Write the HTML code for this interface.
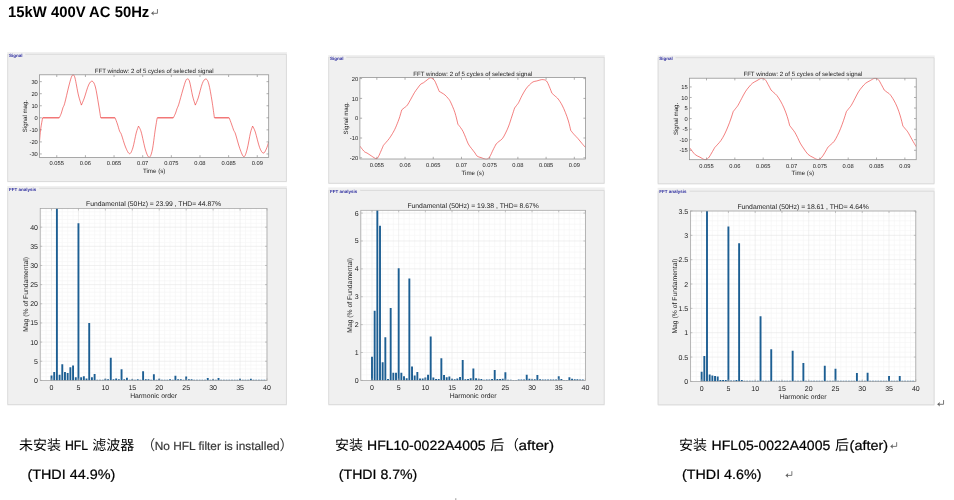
<!DOCTYPE html>
<html><head><meta charset="utf-8"><title>15kW 400V AC 50Hz</title>
<style>
html,body{margin:0;padding:0;background:#fff;width:954px;height:500px;overflow:hidden}
body{font-family:"Liberation Sans",sans-serif;position:relative}
text{white-space:pre}
</style></head><body>
<svg width="954" height="500" viewBox="0 0 954 500" style="position:absolute;left:0;top:0" font-family="Liberation Sans, sans-serif" text-rendering="geometricPrecision">
<rect width="954" height="500" fill="#fff"/>
<defs><filter id="soft" x="0" y="0" width="954" height="500" filterUnits="userSpaceOnUse"><feGaussianBlur stdDeviation="0.35"/></filter></defs>
<g filter="url(#soft)">
<rect x="7.20" y="52.00" width="279.80" height="130.30" fill="#f0f0f0"/>
<path d="M25.20 54.30 H286.40 V181.50 H7.70 V54.30 H8.80" fill="none" stroke="#d2d2d2" stroke-width="0.7"/>
<text x="8.90" y="56.90" font-size="4.50" text-anchor="start" fill="#3030a0" font-weight="bold" >Signal</text>
<rect x="7.20" y="186.00" width="279.80" height="219.40" fill="#f0f0f0"/>
<path d="M39.20 188.30 H286.40 V404.60 H7.70 V188.30 H8.80" fill="none" stroke="#d2d2d2" stroke-width="0.7"/>
<text x="8.90" y="190.90" font-size="4.50" text-anchor="start" fill="#3030a0" font-weight="bold" >FFT analysis</text>
<rect x="39.60" y="74.80" width="229.10" height="82.60" fill="#fff"/>
<text x="56.78" y="165.40" font-size="5.75" text-anchor="middle" fill="#1c1c1c" font-weight="normal" >0.055</text>
<text x="85.42" y="165.40" font-size="5.75" text-anchor="middle" fill="#1c1c1c" font-weight="normal" >0.06</text>
<text x="114.06" y="165.40" font-size="5.75" text-anchor="middle" fill="#1c1c1c" font-weight="normal" >0.065</text>
<text x="142.70" y="165.40" font-size="5.75" text-anchor="middle" fill="#1c1c1c" font-weight="normal" >0.07</text>
<text x="171.33" y="165.40" font-size="5.75" text-anchor="middle" fill="#1c1c1c" font-weight="normal" >0.075</text>
<text x="199.97" y="165.40" font-size="5.75" text-anchor="middle" fill="#1c1c1c" font-weight="normal" >0.08</text>
<text x="228.61" y="165.40" font-size="5.75" text-anchor="middle" fill="#1c1c1c" font-weight="normal" >0.085</text>
<text x="257.25" y="165.40" font-size="5.75" text-anchor="middle" fill="#1c1c1c" font-weight="normal" >0.09</text>
<text x="37.80" y="83.85" font-size="5.75" text-anchor="end" fill="#1c1c1c" font-weight="normal" >30</text>
<text x="37.80" y="95.90" font-size="5.75" text-anchor="end" fill="#1c1c1c" font-weight="normal" >20</text>
<text x="37.80" y="107.95" font-size="5.75" text-anchor="end" fill="#1c1c1c" font-weight="normal" >10</text>
<text x="37.80" y="120.00" font-size="5.75" text-anchor="end" fill="#1c1c1c" font-weight="normal" >0</text>
<text x="37.80" y="132.05" font-size="5.75" text-anchor="end" fill="#1c1c1c" font-weight="normal" >-10</text>
<text x="37.80" y="144.10" font-size="5.75" text-anchor="end" fill="#1c1c1c" font-weight="normal" >-20</text>
<text x="37.80" y="156.15" font-size="5.75" text-anchor="end" fill="#1c1c1c" font-weight="normal" >-30</text>
<path d="M56.78 157.40v-2.20 M56.78 74.80v2.20 M85.42 157.40v-2.20 M85.42 74.80v2.20 M114.06 157.40v-2.20 M114.06 74.80v2.20 M142.70 157.40v-2.20 M142.70 74.80v2.20 M171.33 157.40v-2.20 M171.33 74.80v2.20 M199.97 157.40v-2.20 M199.97 74.80v2.20 M228.61 157.40v-2.20 M228.61 74.80v2.20 M257.25 157.40v-2.20 M257.25 74.80v2.20 M39.60 81.65h2.20 M268.70 81.65h-2.20 M39.60 93.70h2.20 M268.70 93.70h-2.20 M39.60 105.75h2.20 M268.70 105.75h-2.20 M39.60 117.80h2.20 M268.70 117.80h-2.20 M39.60 129.85h2.20 M268.70 129.85h-2.20 M39.60 141.90h2.20 M268.70 141.90h-2.20 M39.60 153.95h2.20 M268.70 153.95h-2.20 " stroke="#8e8e8e" stroke-width="0.7" fill="none"/>
<clipPath id="cp39"><rect x="39.60" y="74.30" width="229.10" height="83.60"/></clipPath>
<path d="M39.50 141.50 C39.70 139.42 40.18 132.95 40.70 129.00 C41.22 125.05 42.28 119.67 42.60 117.80 L59.30 117.80 C59.65 117.00 60.80 114.67 61.40 113.00 C62.00 111.33 62.35 109.42 62.90 107.80 C63.45 106.18 63.75 106.77 64.70 103.30 C65.65 99.83 67.50 91.32 68.60 87.00 C69.70 82.68 70.55 79.42 71.30 77.40 C72.05 75.38 72.48 74.80 73.10 74.90 C73.72 75.00 74.12 74.65 75.00 78.00 C75.88 81.35 77.33 90.48 78.40 95.00 C79.47 99.52 80.90 103.42 81.40 105.10 C81.88 103.92 83.10 101.35 84.30 98.00 C85.50 94.65 87.28 87.80 88.60 85.00 C89.92 82.20 91.07 80.87 92.20 81.20 C93.33 81.53 94.35 83.20 95.40 87.00 C96.45 90.80 97.62 98.87 98.50 104.00 C99.38 109.13 100.33 115.50 100.70 117.80 L115.10 117.80 C115.48 118.83 116.65 121.77 117.40 124.00 C118.15 126.23 118.93 129.45 119.60 131.20 C120.27 132.95 120.42 131.87 121.40 134.50 C122.38 137.13 124.15 143.80 125.50 147.00 C126.85 150.20 128.28 153.53 129.50 153.70 C130.72 153.87 131.68 151.45 132.80 148.00 C133.92 144.55 135.25 136.65 136.20 133.00 C137.15 129.35 138.12 127.25 138.50 126.10 C138.95 127.08 140.03 128.02 141.20 132.00 C142.37 135.98 144.17 145.78 145.50 150.00 C146.83 154.22 148.07 157.30 149.20 157.30 C150.33 157.30 151.30 154.55 152.30 150.00 C153.30 145.45 154.38 135.37 155.20 130.00 C156.02 124.63 156.87 119.83 157.20 117.80 L173.40 117.80 C173.77 117.00 175.00 114.52 175.60 113.00 C176.20 111.48 176.47 110.17 177.00 108.70 C177.53 107.23 177.83 107.32 178.80 104.20 C179.77 101.08 181.63 93.93 182.80 90.00 C183.97 86.07 184.97 82.43 185.80 80.60 C186.63 78.77 187.15 78.77 187.80 79.00 C188.45 79.23 188.90 79.17 189.70 82.00 C190.50 84.83 191.67 92.15 192.60 96.00 C193.53 99.85 194.85 103.58 195.30 105.10 C195.78 103.92 197.03 101.60 198.20 98.00 C199.37 94.40 201.03 86.67 202.30 83.50 C203.57 80.33 204.72 78.92 205.80 79.00 C206.88 79.08 207.77 80.33 208.80 84.00 C209.83 87.67 211.07 95.37 212.00 101.00 C212.93 106.63 214.00 115.00 214.40 117.80 L229.20 117.80 C229.58 118.83 230.75 121.92 231.50 124.00 C232.25 126.08 233.03 128.63 233.70 130.30 C234.37 131.97 234.48 130.97 235.50 134.00 C236.52 137.03 238.40 144.72 239.80 148.50 C241.20 152.28 242.67 156.62 243.90 156.70 C245.13 156.78 246.12 152.95 247.20 149.00 C248.28 145.05 249.50 136.82 250.40 133.00 C251.30 129.18 252.23 127.25 252.60 126.10 C253.05 127.08 254.13 128.43 255.30 132.00 C256.47 135.57 258.27 143.98 259.60 147.50 C260.93 151.02 262.18 152.85 263.30 153.10 C264.42 153.35 265.40 150.85 266.30 149.00 C267.20 147.15 268.30 143.17 268.70 142.00" stroke="#ec3030" stroke-width="0.62" fill="none" stroke-linejoin="round" clip-path="url(#cp39)"/>
<rect x="39.60" y="74.80" width="229.10" height="82.60" fill="none" stroke="#8e8e8e" stroke-width="0.75"/>
<text x="154.15" y="73.00" font-size="6.08" text-anchor="middle" fill="#1c1c1c" font-weight="normal" >FFT window: 2 of 5 cycles of selected signal</text>
<text x="154.15" y="173.00" font-size="6.20" text-anchor="middle" fill="#1c1c1c" font-weight="normal" >Time (s)</text>
<text x="27.00" y="116.10" font-size="6.10" text-anchor="middle" fill="#1c1c1c" font-weight="normal" transform="rotate(-90 27.00 116.10)" >Signal mag.</text>
<path d="M43 117.8H59 M101 117.8H114.8 M157.6 117.8H173 M214.8 117.8H228.8" stroke="#ea2a2a" stroke-width="0.55" fill="none"/>
<rect x="40.20" y="208.50" width="226.80" height="171.90" fill="#fff"/>
<path d="M40.74 208.50V380.40 M46.13 208.50V380.40 M56.90 208.50V380.40 M62.29 208.50V380.40 M67.67 208.50V380.40 M73.06 208.50V380.40 M83.84 208.50V380.40 M89.22 208.50V380.40 M94.61 208.50V380.40 M100.00 208.50V380.40 M110.77 208.50V380.40 M116.16 208.50V380.40 M121.55 208.50V380.40 M126.93 208.50V380.40 M137.71 208.50V380.40 M143.10 208.50V380.40 M148.48 208.50V380.40 M153.87 208.50V380.40 M164.64 208.50V380.40 M170.03 208.50V380.40 M175.42 208.50V380.40 M180.81 208.50V380.40 M191.58 208.50V380.40 M196.97 208.50V380.40 M202.35 208.50V380.40 M207.74 208.50V380.40 M218.52 208.50V380.40 M223.90 208.50V380.40 M229.29 208.50V380.40 M234.68 208.50V380.40 M245.45 208.50V380.40 M250.84 208.50V380.40 M256.23 208.50V380.40 M261.61 208.50V380.40 M40.20 376.57H267.00 M40.20 372.74H267.00 M40.20 368.91H267.00 M40.20 365.08H267.00 M40.20 357.41H267.00 M40.20 353.58H267.00 M40.20 349.75H267.00 M40.20 345.92H267.00 M40.20 338.26H267.00 M40.20 334.43H267.00 M40.20 330.60H267.00 M40.20 326.77H267.00 M40.20 319.10H267.00 M40.20 315.27H267.00 M40.20 311.44H267.00 M40.20 307.61H267.00 M40.20 299.95H267.00 M40.20 296.12H267.00 M40.20 292.29H267.00 M40.20 288.45H267.00 M40.20 280.79H267.00 M40.20 276.96H267.00 M40.20 273.13H267.00 M40.20 269.30H267.00 M40.20 261.64H267.00 M40.20 257.81H267.00 M40.20 253.97H267.00 M40.20 250.14H267.00 M40.20 242.48H267.00 M40.20 238.65H267.00 M40.20 234.82H267.00 M40.20 230.99H267.00 M40.20 223.33H267.00 M40.20 219.50H267.00 M40.20 215.66H267.00 M40.20 211.83H267.00 " stroke="#f5f5f5" stroke-width="0.6" fill="none"/>
<path d="M51.51 208.50V380.40 M78.45 208.50V380.40 M105.38 208.50V380.40 M132.32 208.50V380.40 M159.26 208.50V380.40 M186.19 208.50V380.40 M213.13 208.50V380.40 M240.06 208.50V380.40 M267.00 208.50V380.40 M40.20 361.24H267.00 M40.20 342.09H267.00 M40.20 322.93H267.00 M40.20 303.78H267.00 M40.20 284.62H267.00 M40.20 265.47H267.00 M40.20 246.31H267.00 M40.20 227.16H267.00 " stroke="#e6e6e6" stroke-width="0.6" fill="none"/>
<path d="M50.56 380.40h1.90v-4.98h-1.90z M53.26 380.40h1.90v-8.43h-1.90z M55.95 380.40h1.90v-171.90h-1.90z M58.64 380.40h1.90v-5.75h-1.90z M61.34 380.40h1.90v-16.09h-1.90z M64.03 380.40h1.90v-8.43h-1.90z M66.72 380.40h1.90v-7.28h-1.90z M69.42 380.40h1.90v-13.03h-1.90z M72.11 380.40h1.90v-14.94h-1.90z M74.81 380.40h1.90v-3.06h-1.90z M77.50 380.40h1.90v-157.07h-1.90z M80.19 380.40h1.90v-3.06h-1.90z M82.89 380.40h1.90v-4.21h-1.90z M85.58 380.40h1.90v-1.92h-1.90z M88.27 380.40h1.90v-57.47h-1.90z M90.97 380.40h1.90v-3.06h-1.90z M93.66 380.40h1.90v-6.51h-1.90z M96.35 380.40h1.90v-0.69h-1.90z M99.05 380.40h1.90v-0.69h-1.90z M101.74 380.40h1.90v-0.69h-1.90z M104.43 380.40h1.90v-1.53h-1.90z M107.13 380.40h1.90v-1.15h-1.90z M109.82 380.40h1.90v-22.60h-1.90z M112.52 380.40h1.90v-1.15h-1.90z M115.21 380.40h1.90v-1.92h-1.90z M117.90 380.40h1.90v-1.15h-1.90z M120.60 380.40h1.90v-11.11h-1.90z M123.29 380.40h1.90v-1.15h-1.90z M125.98 380.40h1.90v-2.68h-1.90z M128.68 380.40h1.90v-0.69h-1.90z M131.37 380.40h1.90v-1.15h-1.90z M134.06 380.40h1.90v-0.69h-1.90z M136.76 380.40h1.90v-1.15h-1.90z M139.45 380.40h1.90v-0.69h-1.90z M142.15 380.40h1.90v-9.19h-1.90z M144.84 380.40h1.90v-1.15h-1.90z M147.53 380.40h1.90v-1.15h-1.90z M150.23 380.40h1.90v-0.69h-1.90z M152.92 380.40h1.90v-6.13h-1.90z M155.61 380.40h1.90v-0.69h-1.90z M158.31 380.40h1.90v-1.53h-1.90z M161.00 380.40h1.90v-0.69h-1.90z M163.69 380.40h1.90v-0.69h-1.90z M166.39 380.40h1.90v-0.69h-1.90z M169.08 380.40h1.90v-1.15h-1.90z M171.77 380.40h1.90v-0.69h-1.90z M174.47 380.40h1.90v-4.60h-1.90z M177.16 380.40h1.90v-1.15h-1.90z M179.86 380.40h1.90v-1.15h-1.90z M182.55 380.40h1.90v-0.69h-1.90z M185.24 380.40h1.90v-3.83h-1.90z M187.94 380.40h1.90v-1.15h-1.90z M190.63 380.40h1.90v-1.15h-1.90z M193.32 380.40h1.90v-0.69h-1.90z M196.02 380.40h1.90v-0.69h-1.90z M198.71 380.40h1.90v-0.69h-1.90z M201.40 380.40h1.90v-0.69h-1.90z M204.10 380.40h1.90v-0.69h-1.90z M206.79 380.40h1.90v-2.30h-1.90z M209.48 380.40h1.90v-0.69h-1.90z M212.18 380.40h1.90v-1.15h-1.90z M214.87 380.40h1.90v-0.69h-1.90z M217.57 380.40h1.90v-2.30h-1.90z M220.26 380.40h1.90v-0.69h-1.90z M222.95 380.40h1.90v-0.69h-1.90z M225.65 380.40h1.90v-0.69h-1.90z M228.34 380.40h1.90v-0.69h-1.90z M231.03 380.40h1.90v-0.69h-1.90z M233.73 380.40h1.90v-0.69h-1.90z M236.42 380.40h1.90v-0.69h-1.90z M239.11 380.40h1.90v-1.53h-1.90z M241.81 380.40h1.90v-0.69h-1.90z M244.50 380.40h1.90v-0.69h-1.90z M247.19 380.40h1.90v-0.69h-1.90z M249.89 380.40h1.90v-1.53h-1.90z M252.58 380.40h1.90v-0.69h-1.90z M255.28 380.40h1.90v-0.69h-1.90z M257.97 380.40h1.90v-0.69h-1.90z M260.66 380.40h1.90v-0.69h-1.90z M263.36 380.40h1.90v-0.69h-1.90z " fill="#1f5f93"/>
<text x="51.51" y="389.60" font-size="7.00" text-anchor="middle" fill="#1c1c1c" font-weight="normal" >0</text>
<text x="78.45" y="389.60" font-size="7.00" text-anchor="middle" fill="#1c1c1c" font-weight="normal" >5</text>
<text x="105.38" y="389.60" font-size="7.00" text-anchor="middle" fill="#1c1c1c" font-weight="normal" >10</text>
<text x="132.32" y="389.60" font-size="7.00" text-anchor="middle" fill="#1c1c1c" font-weight="normal" >15</text>
<text x="159.26" y="389.60" font-size="7.00" text-anchor="middle" fill="#1c1c1c" font-weight="normal" >20</text>
<text x="186.19" y="389.60" font-size="7.00" text-anchor="middle" fill="#1c1c1c" font-weight="normal" >25</text>
<text x="213.13" y="389.60" font-size="7.00" text-anchor="middle" fill="#1c1c1c" font-weight="normal" >30</text>
<text x="240.06" y="389.60" font-size="7.00" text-anchor="middle" fill="#1c1c1c" font-weight="normal" >35</text>
<text x="267.00" y="389.60" font-size="7.00" text-anchor="middle" fill="#1c1c1c" font-weight="normal" >40</text>
<text x="38.00" y="382.90" font-size="7.00" text-anchor="end" fill="#1c1c1c" font-weight="normal" >0</text>
<text x="38.00" y="363.74" font-size="7.00" text-anchor="end" fill="#1c1c1c" font-weight="normal" >5</text>
<text x="38.00" y="344.59" font-size="7.00" text-anchor="end" fill="#1c1c1c" font-weight="normal" >10</text>
<text x="38.00" y="325.43" font-size="7.00" text-anchor="end" fill="#1c1c1c" font-weight="normal" >15</text>
<text x="38.00" y="306.28" font-size="7.00" text-anchor="end" fill="#1c1c1c" font-weight="normal" >20</text>
<text x="38.00" y="287.12" font-size="7.00" text-anchor="end" fill="#1c1c1c" font-weight="normal" >25</text>
<text x="38.00" y="267.97" font-size="7.00" text-anchor="end" fill="#1c1c1c" font-weight="normal" >30</text>
<text x="38.00" y="248.81" font-size="7.00" text-anchor="end" fill="#1c1c1c" font-weight="normal" >35</text>
<text x="38.00" y="229.66" font-size="7.00" text-anchor="end" fill="#1c1c1c" font-weight="normal" >40</text>
<path d="M51.51 380.40v-2.00 M51.51 208.50v2.00 M78.45 380.40v-2.00 M78.45 208.50v2.00 M105.38 380.40v-2.00 M105.38 208.50v2.00 M132.32 380.40v-2.00 M132.32 208.50v2.00 M159.26 380.40v-2.00 M159.26 208.50v2.00 M186.19 380.40v-2.00 M186.19 208.50v2.00 M213.13 380.40v-2.00 M213.13 208.50v2.00 M240.06 380.40v-2.00 M240.06 208.50v2.00 M267.00 380.40v-2.00 M267.00 208.50v2.00 M40.20 380.40h2.00 M267.00 380.40h-2.00 M40.20 361.24h2.00 M267.00 361.24h-2.00 M40.20 342.09h2.00 M267.00 342.09h-2.00 M40.20 322.93h2.00 M267.00 322.93h-2.00 M40.20 303.78h2.00 M267.00 303.78h-2.00 M40.20 284.62h2.00 M267.00 284.62h-2.00 M40.20 265.47h2.00 M267.00 265.47h-2.00 M40.20 246.31h2.00 M267.00 246.31h-2.00 M40.20 227.16h2.00 M267.00 227.16h-2.00 " stroke="#a2a2a2" stroke-width="0.6" fill="none"/>
<rect x="40.20" y="208.50" width="226.80" height="171.90" fill="none" stroke="#a2a2a2" stroke-width="0.75"/>
<text x="153.60" y="206.20" font-size="6.80" text-anchor="middle" fill="#1c1c1c" font-weight="normal" >Fundamental (50Hz) = 23.99 , THD= 44.87%</text>
<text x="153.60" y="398.20" font-size="6.80" text-anchor="middle" fill="#1c1c1c" font-weight="normal" >Harmonic order</text>
<text x="27.60" y="294.45" font-size="6.80" text-anchor="middle" fill="#1c1c1c" font-weight="normal" transform="rotate(-90 27.60 294.45)" >Mag (% of Fundamental)</text>
<rect x="328.20" y="55.00" width="276.60" height="129.10" fill="#f0f0f0"/>
<path d="M346.20 57.30 H604.20 V183.30 H328.70 V57.30 H329.80" fill="none" stroke="#d2d2d2" stroke-width="0.7"/>
<text x="329.90" y="59.90" font-size="4.50" text-anchor="start" fill="#3030a0" font-weight="bold" >Signal</text>
<rect x="328.20" y="187.40" width="276.60" height="218.00" fill="#f0f0f0"/>
<path d="M360.20 190.40 H604.20 V404.60 H328.70 V190.40 H329.80" fill="none" stroke="#d2d2d2" stroke-width="0.7"/>
<text x="329.90" y="192.51" font-size="4.50" text-anchor="start" fill="#3030a0" font-weight="bold" >FFT analysis</text>
<rect x="359.90" y="77.60" width="225.70" height="81.40" fill="#fff"/>
<text x="376.83" y="167.00" font-size="5.75" text-anchor="middle" fill="#1c1c1c" font-weight="normal" >0.055</text>
<text x="405.04" y="167.00" font-size="5.75" text-anchor="middle" fill="#1c1c1c" font-weight="normal" >0.06</text>
<text x="433.25" y="167.00" font-size="5.75" text-anchor="middle" fill="#1c1c1c" font-weight="normal" >0.065</text>
<text x="461.47" y="167.00" font-size="5.75" text-anchor="middle" fill="#1c1c1c" font-weight="normal" >0.07</text>
<text x="489.68" y="167.00" font-size="5.75" text-anchor="middle" fill="#1c1c1c" font-weight="normal" >0.075</text>
<text x="517.89" y="167.00" font-size="5.75" text-anchor="middle" fill="#1c1c1c" font-weight="normal" >0.08</text>
<text x="546.10" y="167.00" font-size="5.75" text-anchor="middle" fill="#1c1c1c" font-weight="normal" >0.085</text>
<text x="574.32" y="167.00" font-size="5.75" text-anchor="middle" fill="#1c1c1c" font-weight="normal" >0.09</text>
<text x="358.10" y="80.80" font-size="5.75" text-anchor="end" fill="#1c1c1c" font-weight="normal" >20</text>
<text x="358.10" y="100.60" font-size="5.75" text-anchor="end" fill="#1c1c1c" font-weight="normal" >10</text>
<text x="358.10" y="120.40" font-size="5.75" text-anchor="end" fill="#1c1c1c" font-weight="normal" >0</text>
<text x="358.10" y="140.20" font-size="5.75" text-anchor="end" fill="#1c1c1c" font-weight="normal" >-10</text>
<text x="358.10" y="160.00" font-size="5.75" text-anchor="end" fill="#1c1c1c" font-weight="normal" >-20</text>
<path d="M376.83 159.00v-2.20 M376.83 77.60v2.20 M405.04 159.00v-2.20 M405.04 77.60v2.20 M433.25 159.00v-2.20 M433.25 77.60v2.20 M461.47 159.00v-2.20 M461.47 77.60v2.20 M489.68 159.00v-2.20 M489.68 77.60v2.20 M517.89 159.00v-2.20 M517.89 77.60v2.20 M546.10 159.00v-2.20 M546.10 77.60v2.20 M574.32 159.00v-2.20 M574.32 77.60v2.20 M359.90 78.60h2.20 M585.60 78.60h-2.20 M359.90 98.40h2.20 M585.60 98.40h-2.20 M359.90 118.20h2.20 M585.60 118.20h-2.20 M359.90 138.00h2.20 M585.60 138.00h-2.20 M359.90 157.80h2.20 M585.60 157.80h-2.20 " stroke="#8e8e8e" stroke-width="0.7" fill="none"/>
<clipPath id="cp359"><rect x="359.90" y="77.10" width="225.70" height="82.40"/></clipPath>
<path d="M359.90 146.10 C360.33 146.67 361.67 148.50 362.50 149.50 C363.33 150.50 364.15 151.52 364.90 152.10 C365.65 152.68 365.90 152.35 367.00 153.00 C368.10 153.65 369.97 155.05 371.50 156.00 C373.03 156.95 375.05 158.60 376.20 158.70 C377.35 158.80 377.60 157.88 378.40 156.60 C379.20 155.32 380.17 152.87 381.00 151.00 C381.83 149.13 383.00 146.33 383.40 145.40 C383.83 144.90 385.03 143.53 386.00 142.40 C386.97 141.27 388.12 140.08 389.20 138.60 C390.28 137.12 391.45 135.30 392.50 133.50 C393.55 131.70 394.42 130.22 395.50 127.80 C396.58 125.38 397.95 122.00 399.00 119.00 C400.05 116.00 401.33 111.33 401.80 109.80 C402.25 109.43 403.60 108.35 404.50 107.60 C405.40 106.85 406.15 106.70 407.20 105.30 C408.25 103.90 409.60 101.30 410.80 99.20 C412.00 97.10 413.27 94.53 414.40 92.70 C415.53 90.87 416.55 89.62 417.60 88.20 C418.65 86.78 419.73 85.10 420.70 84.20 C421.67 83.30 422.35 83.50 423.40 82.80 C424.45 82.10 425.80 80.83 427.00 80.00 C428.20 79.17 429.40 77.78 430.60 77.80 C431.80 77.82 433.17 78.82 434.20 80.10 C435.23 81.38 435.97 83.62 436.80 85.50 C437.63 87.38 438.80 90.42 439.20 91.40 C439.67 91.67 441.03 92.40 442.00 93.00 C442.97 93.60 444.03 94.17 445.00 95.00 C445.97 95.83 446.90 96.88 447.80 98.00 C448.70 99.12 449.22 99.28 450.40 101.70 C451.58 104.12 453.65 108.75 454.90 112.50 C456.15 116.25 457.40 122.25 457.90 124.20 C458.33 124.75 459.65 126.30 460.50 127.50 C461.35 128.70 462.15 129.75 463.00 131.40 C463.85 133.05 464.72 135.30 465.60 137.40 C466.48 139.50 467.30 142.13 468.30 144.00 C469.30 145.87 470.48 147.10 471.60 148.60 C472.72 150.10 474.07 151.73 475.00 153.00 C475.93 154.27 476.20 155.43 477.20 156.20 C478.20 156.97 479.43 157.08 481.00 157.60 C482.57 158.12 485.13 159.47 486.60 159.30 C488.07 159.13 488.73 158.15 489.80 156.60 C490.87 155.05 491.95 152.10 493.00 150.00 C494.05 147.90 495.58 145.00 496.10 144.00 C496.58 143.57 497.95 142.30 499.00 141.40 C500.05 140.50 501.30 140.00 502.40 138.60 C503.50 137.20 504.55 135.10 505.60 133.00 C506.65 130.90 507.63 128.83 508.70 126.00 C509.77 123.17 511.02 119.00 512.00 116.00 C512.98 113.00 514.17 109.33 514.60 108.00 C514.92 107.58 515.83 106.40 516.50 105.50 C517.17 104.60 517.68 104.25 518.60 102.60 C519.52 100.95 520.80 97.85 522.00 95.60 C523.20 93.35 524.58 90.87 525.80 89.10 C527.02 87.33 528.10 86.20 529.30 85.00 C530.50 83.80 531.78 82.57 533.00 81.90 C534.22 81.23 535.43 81.32 536.60 81.00 C537.77 80.68 538.95 80.23 540.00 80.00 C541.05 79.77 541.82 79.43 542.90 79.60 C543.98 79.77 545.42 79.80 546.50 81.00 C547.58 82.20 548.50 84.77 549.40 86.80 C550.30 88.83 551.48 92.13 551.90 93.20 C552.42 93.67 553.95 95.03 555.00 96.00 C556.05 96.97 557.03 97.50 558.20 99.00 C559.37 100.50 560.80 102.75 562.00 105.00 C563.20 107.25 564.33 109.83 565.40 112.50 C566.47 115.17 567.50 118.00 568.40 121.00 C569.30 124.00 570.40 128.92 570.80 130.50 C571.37 131.18 573.00 133.25 574.20 134.60 C575.40 135.95 576.70 137.12 578.00 138.60 C579.30 140.08 580.73 142.00 582.00 143.50 C583.27 145.00 585.00 146.92 585.60 147.60" stroke="#ec3030" stroke-width="0.62" fill="none" stroke-linejoin="round" clip-path="url(#cp359)"/>
<rect x="359.90" y="77.60" width="225.70" height="81.40" fill="none" stroke="#8e8e8e" stroke-width="0.75"/>
<text x="472.75" y="75.80" font-size="6.08" text-anchor="middle" fill="#1c1c1c" font-weight="normal" >FFT window: 2 of 5 cycles of selected signal</text>
<text x="472.75" y="174.60" font-size="6.20" text-anchor="middle" fill="#1c1c1c" font-weight="normal" >Time (s)</text>
<text x="348.30" y="118.30" font-size="6.10" text-anchor="middle" fill="#1c1c1c" font-weight="normal" transform="rotate(-90 348.30 118.30)" >Signal mag.</text>
<rect x="360.80" y="210.30" width="224.60" height="170.10" fill="#fff"/>
<path d="M361.33 210.30V380.40 M366.67 210.30V380.40 M377.34 210.30V380.40 M382.67 210.30V380.40 M388.01 210.30V380.40 M393.34 210.30V380.40 M404.01 210.30V380.40 M409.35 210.30V380.40 M414.68 210.30V380.40 M420.02 210.30V380.40 M430.69 210.30V380.40 M436.02 210.30V380.40 M441.36 210.30V380.40 M446.69 210.30V380.40 M457.36 210.30V380.40 M462.70 210.30V380.40 M468.03 210.30V380.40 M473.37 210.30V380.40 M484.04 210.30V380.40 M489.37 210.30V380.40 M494.71 210.30V380.40 M500.04 210.30V380.40 M510.71 210.30V380.40 M516.05 210.30V380.40 M521.38 210.30V380.40 M526.72 210.30V380.40 M537.39 210.30V380.40 M542.72 210.30V380.40 M548.06 210.30V380.40 M553.39 210.30V380.40 M564.06 210.30V380.40 M569.40 210.30V380.40 M574.73 210.30V380.40 M580.07 210.30V380.40 M360.80 374.82H585.40 M360.80 369.25H585.40 M360.80 363.67H585.40 M360.80 358.09H585.40 M360.80 346.94H585.40 M360.80 341.36H585.40 M360.80 335.78H585.40 M360.80 330.21H585.40 M360.80 319.05H585.40 M360.80 313.48H585.40 M360.80 307.90H585.40 M360.80 302.32H585.40 M360.80 291.17H585.40 M360.80 285.59H585.40 M360.80 280.01H585.40 M360.80 274.44H585.40 M360.80 263.28H585.40 M360.80 257.70H585.40 M360.80 252.13H585.40 M360.80 246.55H585.40 M360.80 235.40H585.40 M360.80 229.82H585.40 M360.80 224.24H585.40 M360.80 218.67H585.40 " stroke="#f5f5f5" stroke-width="0.6" fill="none"/>
<path d="M372.00 210.30V380.40 M398.68 210.30V380.40 M425.35 210.30V380.40 M452.03 210.30V380.40 M478.70 210.30V380.40 M505.38 210.30V380.40 M532.05 210.30V380.40 M558.73 210.30V380.40 M585.40 210.30V380.40 M360.80 352.51H585.40 M360.80 324.63H585.40 M360.80 296.74H585.40 M360.80 268.86H585.40 M360.80 240.97H585.40 M360.80 213.09H585.40 " stroke="#e6e6e6" stroke-width="0.6" fill="none"/>
<path d="M371.05 380.40h1.90v-23.70h-1.90z M373.72 380.40h1.90v-69.71h-1.90z M376.39 380.40h1.90v-170.10h-1.90z M379.06 380.40h1.90v-154.76h-1.90z M381.72 380.40h1.90v-18.13h-1.90z M384.39 380.40h1.90v-43.22h-1.90z M387.06 380.40h1.90v-1.39h-1.90z M389.73 380.40h1.90v-72.50h-1.90z M392.39 380.40h1.90v-7.53h-1.90z M395.06 380.40h1.90v-7.53h-1.90z M397.73 380.40h1.90v-112.10h-1.90z M400.40 380.40h1.90v-7.53h-1.90z M403.06 380.40h1.90v-4.18h-1.90z M405.73 380.40h1.90v-2.23h-1.90z M408.40 380.40h1.90v-101.78h-1.90z M411.07 380.40h1.90v-13.94h-1.90z M413.73 380.40h1.90v-5.02h-1.90z M416.40 380.40h1.90v-8.37h-1.90z M419.07 380.40h1.90v-1.95h-1.90z M421.74 380.40h1.90v-1.95h-1.90z M424.40 380.40h1.90v-2.79h-1.90z M427.07 380.40h1.90v-5.58h-1.90z M429.74 380.40h1.90v-43.78h-1.90z M432.40 380.40h1.90v-2.79h-1.90z M435.07 380.40h1.90v-1.39h-1.90z M437.74 380.40h1.90v-1.39h-1.90z M440.41 380.40h1.90v-22.03h-1.90z M443.07 380.40h1.90v-5.30h-1.90z M445.74 380.40h1.90v-3.07h-1.90z M448.41 380.40h1.90v-3.90h-1.90z M451.08 380.40h1.90v-1.67h-1.90z M453.74 380.40h1.90v-1.12h-1.90z M456.41 380.40h1.90v-1.95h-1.90z M459.08 380.40h1.90v-3.35h-1.90z M461.75 380.40h1.90v-20.36h-1.90z M464.41 380.40h1.90v-1.12h-1.90z M467.08 380.40h1.90v-1.39h-1.90z M469.75 380.40h1.90v-2.23h-1.90z M472.42 380.40h1.90v-11.99h-1.90z M475.08 380.40h1.90v-2.23h-1.90z M477.75 380.40h1.90v-1.67h-1.90z M480.42 380.40h1.90v-1.39h-1.90z M483.09 380.40h1.90v-0.56h-1.90z M485.75 380.40h1.90v-0.84h-1.90z M488.42 380.40h1.90v-0.84h-1.90z M491.09 380.40h1.90v-1.39h-1.90z M493.76 380.40h1.90v-10.32h-1.90z M496.42 380.40h1.90v-1.39h-1.90z M499.09 380.40h1.90v-1.39h-1.90z M501.76 380.40h1.90v-1.67h-1.90z M504.43 380.40h1.90v-8.09h-1.90z M507.09 380.40h1.90v-0.56h-1.90z M509.76 380.40h1.90v-0.56h-1.90z M512.43 380.40h1.90v-0.28h-1.90z M515.10 380.40h1.90v-0.28h-1.90z M517.76 380.40h1.90v-0.84h-1.90z M520.43 380.40h1.90v-0.84h-1.90z M523.10 380.40h1.90v-0.84h-1.90z M525.77 380.40h1.90v-5.58h-1.90z M528.43 380.40h1.90v-1.67h-1.90z M531.10 380.40h1.90v-1.12h-1.90z M533.77 380.40h1.90v-1.12h-1.90z M536.44 380.40h1.90v-5.30h-1.90z M539.10 380.40h1.90v-1.12h-1.90z M541.77 380.40h1.90v-0.84h-1.90z M544.44 380.40h1.90v-0.84h-1.90z M547.11 380.40h1.90v-0.84h-1.90z M549.77 380.40h1.90v-0.84h-1.90z M552.44 380.40h1.90v-0.84h-1.90z M555.11 380.40h1.90v-0.84h-1.90z M557.78 380.40h1.90v-4.18h-1.90z M560.44 380.40h1.90v-1.39h-1.90z M563.11 380.40h1.90v-0.28h-1.90z M565.78 380.40h1.90v-0.28h-1.90z M568.45 380.40h1.90v-3.07h-1.90z M571.11 380.40h1.90v-1.67h-1.90z M573.78 380.40h1.90v-1.12h-1.90z M576.45 380.40h1.90v-1.12h-1.90z M579.12 380.40h1.90v-0.84h-1.90z M581.78 380.40h1.90v-0.84h-1.90z " fill="#1f5f93"/>
<text x="372.00" y="389.60" font-size="7.00" text-anchor="middle" fill="#1c1c1c" font-weight="normal" >0</text>
<text x="398.68" y="389.60" font-size="7.00" text-anchor="middle" fill="#1c1c1c" font-weight="normal" >5</text>
<text x="425.35" y="389.60" font-size="7.00" text-anchor="middle" fill="#1c1c1c" font-weight="normal" >10</text>
<text x="452.03" y="389.60" font-size="7.00" text-anchor="middle" fill="#1c1c1c" font-weight="normal" >15</text>
<text x="478.70" y="389.60" font-size="7.00" text-anchor="middle" fill="#1c1c1c" font-weight="normal" >20</text>
<text x="505.38" y="389.60" font-size="7.00" text-anchor="middle" fill="#1c1c1c" font-weight="normal" >25</text>
<text x="532.05" y="389.60" font-size="7.00" text-anchor="middle" fill="#1c1c1c" font-weight="normal" >30</text>
<text x="558.73" y="389.60" font-size="7.00" text-anchor="middle" fill="#1c1c1c" font-weight="normal" >35</text>
<text x="585.40" y="389.60" font-size="7.00" text-anchor="middle" fill="#1c1c1c" font-weight="normal" >40</text>
<text x="358.60" y="382.90" font-size="7.00" text-anchor="end" fill="#1c1c1c" font-weight="normal" >0</text>
<text x="358.60" y="355.01" font-size="7.00" text-anchor="end" fill="#1c1c1c" font-weight="normal" >1</text>
<text x="358.60" y="327.13" font-size="7.00" text-anchor="end" fill="#1c1c1c" font-weight="normal" >2</text>
<text x="358.60" y="299.24" font-size="7.00" text-anchor="end" fill="#1c1c1c" font-weight="normal" >3</text>
<text x="358.60" y="271.36" font-size="7.00" text-anchor="end" fill="#1c1c1c" font-weight="normal" >4</text>
<text x="358.60" y="243.47" font-size="7.00" text-anchor="end" fill="#1c1c1c" font-weight="normal" >5</text>
<text x="358.60" y="215.59" font-size="7.00" text-anchor="end" fill="#1c1c1c" font-weight="normal" >6</text>
<path d="M372.00 380.40v-2.00 M372.00 210.30v2.00 M398.68 380.40v-2.00 M398.68 210.30v2.00 M425.35 380.40v-2.00 M425.35 210.30v2.00 M452.03 380.40v-2.00 M452.03 210.30v2.00 M478.70 380.40v-2.00 M478.70 210.30v2.00 M505.38 380.40v-2.00 M505.38 210.30v2.00 M532.05 380.40v-2.00 M532.05 210.30v2.00 M558.73 380.40v-2.00 M558.73 210.30v2.00 M585.40 380.40v-2.00 M585.40 210.30v2.00 M360.80 380.40h2.00 M585.40 380.40h-2.00 M360.80 352.51h2.00 M585.40 352.51h-2.00 M360.80 324.63h2.00 M585.40 324.63h-2.00 M360.80 296.74h2.00 M585.40 296.74h-2.00 M360.80 268.86h2.00 M585.40 268.86h-2.00 M360.80 240.97h2.00 M585.40 240.97h-2.00 M360.80 213.09h2.00 M585.40 213.09h-2.00 " stroke="#a2a2a2" stroke-width="0.6" fill="none"/>
<rect x="360.80" y="210.30" width="224.60" height="170.10" fill="none" stroke="#a2a2a2" stroke-width="0.75"/>
<text x="473.10" y="208.00" font-size="6.80" text-anchor="middle" fill="#1c1c1c" font-weight="normal" >Fundamental (50Hz) = 19.38 , THD= 8.67%</text>
<text x="473.10" y="398.20" font-size="6.80" text-anchor="middle" fill="#1c1c1c" font-weight="normal" >Harmonic order</text>
<text x="352.00" y="295.35" font-size="6.80" text-anchor="middle" fill="#1c1c1c" font-weight="normal" transform="rotate(-90 352.00 295.35)" >Mag (% of Fundamental)</text>
<rect x="657.60" y="55.40" width="277.10" height="129.10" fill="#f0f0f0"/>
<path d="M675.60 57.70 H934.10 V183.70 H658.10 V57.70 H659.20" fill="none" stroke="#d2d2d2" stroke-width="0.7"/>
<text x="659.30" y="60.30" font-size="4.50" text-anchor="start" fill="#3030a0" font-weight="bold" >Signal</text>
<rect x="657.60" y="187.80" width="277.10" height="217.80" fill="#f0f0f0"/>
<path d="M689.60 191.20 H934.10 V404.80 H658.10 V191.20 H659.20" fill="none" stroke="#d2d2d2" stroke-width="0.7"/>
<text x="659.30" y="193.03" font-size="4.50" text-anchor="start" fill="#3030a0" font-weight="bold" >FFT analysis</text>
<rect x="689.50" y="78.20" width="226.70" height="81.50" fill="#fff"/>
<text x="706.50" y="167.70" font-size="5.75" text-anchor="middle" fill="#1c1c1c" font-weight="normal" >0.055</text>
<text x="734.84" y="167.70" font-size="5.75" text-anchor="middle" fill="#1c1c1c" font-weight="normal" >0.06</text>
<text x="763.18" y="167.70" font-size="5.75" text-anchor="middle" fill="#1c1c1c" font-weight="normal" >0.065</text>
<text x="791.52" y="167.70" font-size="5.75" text-anchor="middle" fill="#1c1c1c" font-weight="normal" >0.07</text>
<text x="819.85" y="167.70" font-size="5.75" text-anchor="middle" fill="#1c1c1c" font-weight="normal" >0.075</text>
<text x="848.19" y="167.70" font-size="5.75" text-anchor="middle" fill="#1c1c1c" font-weight="normal" >0.08</text>
<text x="876.53" y="167.70" font-size="5.75" text-anchor="middle" fill="#1c1c1c" font-weight="normal" >0.085</text>
<text x="904.87" y="167.70" font-size="5.75" text-anchor="middle" fill="#1c1c1c" font-weight="normal" >0.09</text>
<text x="687.70" y="89.11" font-size="5.75" text-anchor="end" fill="#1c1c1c" font-weight="normal" >15</text>
<text x="687.70" y="99.67" font-size="5.75" text-anchor="end" fill="#1c1c1c" font-weight="normal" >10</text>
<text x="687.70" y="110.23" font-size="5.75" text-anchor="end" fill="#1c1c1c" font-weight="normal" >5</text>
<text x="687.70" y="120.80" font-size="5.75" text-anchor="end" fill="#1c1c1c" font-weight="normal" >0</text>
<text x="687.70" y="131.36" font-size="5.75" text-anchor="end" fill="#1c1c1c" font-weight="normal" >-5</text>
<text x="687.70" y="141.93" font-size="5.75" text-anchor="end" fill="#1c1c1c" font-weight="normal" >-10</text>
<text x="687.70" y="152.49" font-size="5.75" text-anchor="end" fill="#1c1c1c" font-weight="normal" >-15</text>
<path d="M706.50 159.70v-2.20 M706.50 78.20v2.20 M734.84 159.70v-2.20 M734.84 78.20v2.20 M763.18 159.70v-2.20 M763.18 78.20v2.20 M791.52 159.70v-2.20 M791.52 78.20v2.20 M819.85 159.70v-2.20 M819.85 78.20v2.20 M848.19 159.70v-2.20 M848.19 78.20v2.20 M876.53 159.70v-2.20 M876.53 78.20v2.20 M904.87 159.70v-2.20 M904.87 78.20v2.20 M689.50 86.91h2.20 M916.20 86.91h-2.20 M689.50 97.47h2.20 M916.20 97.47h-2.20 M689.50 108.03h2.20 M916.20 108.03h-2.20 M689.50 118.60h2.20 M916.20 118.60h-2.20 M689.50 129.16h2.20 M916.20 129.16h-2.20 M689.50 139.73h2.20 M916.20 139.73h-2.20 M689.50 150.29h2.20 M916.20 150.29h-2.20 " stroke="#8e8e8e" stroke-width="0.7" fill="none"/>
<clipPath id="cp689"><rect x="689.50" y="77.70" width="226.70" height="82.50"/></clipPath>
<path d="M689.50 147.60 C689.98 148.23 691.42 150.20 692.40 151.40 C693.38 152.60 694.13 153.83 695.40 154.80 C696.67 155.77 698.43 156.40 700.00 157.20 C701.57 158.00 703.40 159.47 704.80 159.60 C706.20 159.73 707.27 159.10 708.40 158.00 C709.53 156.90 710.55 154.73 711.60 153.00 C712.65 151.27 714.18 148.50 714.70 147.60 C715.22 147.03 716.75 145.40 717.80 144.20 C718.85 143.00 719.85 142.10 721.00 140.40 C722.15 138.70 723.50 136.40 724.70 134.00 C725.90 131.60 727.18 128.50 728.20 126.00 C729.22 123.50 729.97 121.40 730.80 119.00 C731.63 116.60 732.80 112.83 733.20 111.60 C733.60 111.08 734.80 109.55 735.60 108.50 C736.40 107.45 737.00 106.95 738.00 105.30 C739.00 103.65 740.38 100.85 741.60 98.60 C742.82 96.35 744.08 93.73 745.30 91.80 C746.52 89.87 747.70 88.43 748.90 87.00 C750.10 85.57 751.15 84.27 752.50 83.20 C753.85 82.13 755.50 81.42 757.00 80.60 C758.50 79.78 760.15 78.47 761.50 78.30 C762.85 78.13 764.00 78.57 765.10 79.60 C766.20 80.63 767.12 82.77 768.10 84.50 C769.08 86.23 770.52 89.08 771.00 90.00 C771.47 90.43 772.83 91.70 773.80 92.60 C774.77 93.50 775.68 94.00 776.80 95.40 C777.92 96.80 779.30 98.90 780.50 101.00 C781.70 103.10 782.88 105.42 784.00 108.00 C785.12 110.58 786.25 113.57 787.20 116.50 C788.15 119.43 789.28 124.08 789.70 125.60 C790.12 126.13 791.35 127.68 792.20 128.80 C793.05 129.92 793.90 130.83 794.80 132.30 C795.70 133.77 796.70 135.80 797.60 137.60 C798.50 139.40 799.13 141.20 800.20 143.10 C801.27 145.00 802.68 147.12 804.00 149.00 C805.32 150.88 806.60 153.00 808.10 154.40 C809.60 155.80 811.35 156.53 813.00 157.40 C814.65 158.27 816.57 159.58 818.00 159.60 C819.43 159.62 820.45 158.68 821.60 157.50 C822.75 156.32 823.85 154.22 824.90 152.50 C825.95 150.78 827.40 148.08 827.90 147.20 C828.42 146.73 829.95 145.38 831.00 144.40 C832.05 143.42 833.13 142.77 834.20 141.30 C835.27 139.83 836.35 137.70 837.40 135.60 C838.45 133.50 839.47 131.25 840.50 128.70 C841.53 126.15 842.62 123.15 843.60 120.30 C844.58 117.45 845.93 113.05 846.40 111.60 C846.80 111.08 847.98 109.55 848.80 108.50 C849.62 107.45 850.28 106.95 851.30 105.30 C852.32 103.65 853.70 100.85 854.90 98.60 C856.10 96.35 857.30 93.73 858.50 91.80 C859.70 89.87 860.90 88.43 862.10 87.00 C863.30 85.57 864.35 84.27 865.70 83.20 C867.05 82.13 868.70 81.42 870.20 80.60 C871.70 79.78 873.35 78.47 874.70 78.30 C876.05 78.13 877.20 78.57 878.30 79.60 C879.40 80.63 880.32 82.77 881.30 84.50 C882.28 86.23 883.72 89.08 884.20 90.00 C884.67 90.37 886.03 91.45 887.00 92.20 C887.97 92.95 888.88 93.20 890.00 94.50 C891.12 95.80 892.50 97.90 893.70 100.00 C894.90 102.10 896.10 104.43 897.20 107.10 C898.30 109.77 899.35 112.85 900.30 116.00 C901.25 119.15 902.47 124.33 902.90 126.00 C903.32 126.50 904.55 127.95 905.40 129.00 C906.25 130.05 906.90 130.55 908.00 132.30 C909.10 134.05 910.63 137.10 912.00 139.50 C913.37 141.90 915.50 145.50 916.20 146.70" stroke="#ec3030" stroke-width="0.62" fill="none" stroke-linejoin="round" clip-path="url(#cp689)"/>
<rect x="689.50" y="78.20" width="226.70" height="81.50" fill="none" stroke="#8e8e8e" stroke-width="0.75"/>
<text x="802.85" y="76.40" font-size="6.08" text-anchor="middle" fill="#1c1c1c" font-weight="normal" >FFT window: 2 of 5 cycles of selected signal</text>
<text x="802.85" y="175.30" font-size="6.20" text-anchor="middle" fill="#1c1c1c" font-weight="normal" >Time (s)</text>
<text x="677.80" y="118.95" font-size="6.10" text-anchor="middle" fill="#1c1c1c" font-weight="normal" transform="rotate(-90 677.80 118.95)" >Signal mag.</text>
<rect x="690.40" y="211.00" width="225.40" height="170.40" fill="#fff"/>
<path d="M690.94 211.00V381.40 M696.29 211.00V381.40 M707.00 211.00V381.40 M712.35 211.00V381.40 M717.70 211.00V381.40 M723.06 211.00V381.40 M733.77 211.00V381.40 M739.12 211.00V381.40 M744.47 211.00V381.40 M749.83 211.00V381.40 M760.54 211.00V381.40 M765.89 211.00V381.40 M771.24 211.00V381.40 M776.60 211.00V381.40 M787.31 211.00V381.40 M792.66 211.00V381.40 M798.01 211.00V381.40 M803.37 211.00V381.40 M814.08 211.00V381.40 M819.43 211.00V381.40 M824.78 211.00V381.40 M830.14 211.00V381.40 M840.85 211.00V381.40 M846.20 211.00V381.40 M851.55 211.00V381.40 M856.91 211.00V381.40 M867.61 211.00V381.40 M872.97 211.00V381.40 M878.32 211.00V381.40 M883.68 211.00V381.40 M894.38 211.00V381.40 M899.74 211.00V381.40 M905.09 211.00V381.40 M910.45 211.00V381.40 M690.40 376.53H915.80 M690.40 371.66H915.80 M690.40 366.79H915.80 M690.40 361.93H915.80 M690.40 352.19H915.80 M690.40 347.32H915.80 M690.40 342.45H915.80 M690.40 337.58H915.80 M690.40 327.85H915.80 M690.40 322.98H915.80 M690.40 318.11H915.80 M690.40 313.24H915.80 M690.40 303.50H915.80 M690.40 298.63H915.80 M690.40 293.77H915.80 M690.40 288.90H915.80 M690.40 279.16H915.80 M690.40 274.29H915.80 M690.40 269.42H915.80 M690.40 264.55H915.80 M690.40 254.82H915.80 M690.40 249.95H915.80 M690.40 245.08H915.80 M690.40 240.21H915.80 M690.40 230.47H915.80 M690.40 225.61H915.80 M690.40 220.74H915.80 M690.40 215.87H915.80 " stroke="#f5f5f5" stroke-width="0.6" fill="none"/>
<path d="M701.64 211.00V381.40 M728.41 211.00V381.40 M755.18 211.00V381.40 M781.95 211.00V381.40 M808.72 211.00V381.40 M835.49 211.00V381.40 M862.26 211.00V381.40 M889.03 211.00V381.40 M915.80 211.00V381.40 M690.40 357.06H915.80 M690.40 332.71H915.80 M690.40 308.37H915.80 M690.40 284.03H915.80 M690.40 259.69H915.80 M690.40 235.34H915.80 M690.40 211.00H915.80 " stroke="#e6e6e6" stroke-width="0.6" fill="none"/>
<path d="M700.69 381.40h1.90v-9.74h-1.90z M703.37 381.40h1.90v-25.32h-1.90z M706.05 381.40h1.90v-170.40h-1.90z M708.72 381.40h1.90v-6.82h-1.90z M711.40 381.40h1.90v-5.84h-1.90z M714.08 381.40h1.90v-5.36h-1.90z M716.75 381.40h1.90v-4.87h-1.90z M719.43 381.40h1.90v-1.46h-1.90z M722.11 381.40h1.90v-1.46h-1.90z M724.79 381.40h1.90v-1.46h-1.90z M727.46 381.40h1.90v-154.82h-1.90z M730.14 381.40h1.90v-0.97h-1.90z M732.82 381.40h1.90v-0.97h-1.90z M735.49 381.40h1.90v-1.46h-1.90z M738.17 381.40h1.90v-138.27h-1.90z M740.85 381.40h1.90v-1.46h-1.90z M743.52 381.40h1.90v-0.58h-1.90z M746.20 381.40h1.90v-0.58h-1.90z M748.88 381.40h1.90v-0.58h-1.90z M751.56 381.40h1.90v-0.58h-1.90z M754.23 381.40h1.90v-0.58h-1.90z M756.91 381.40h1.90v-0.58h-1.90z M759.59 381.40h1.90v-65.24h-1.90z M762.26 381.40h1.90v-0.58h-1.90z M764.94 381.40h1.90v-0.58h-1.90z M767.62 381.40h1.90v-0.58h-1.90z M770.29 381.40h1.90v-32.13h-1.90z M772.97 381.40h1.90v-0.58h-1.90z M775.65 381.40h1.90v-0.58h-1.90z M778.33 381.40h1.90v-0.58h-1.90z M781.00 381.40h1.90v-0.58h-1.90z M783.68 381.40h1.90v-0.58h-1.90z M786.36 381.40h1.90v-0.58h-1.90z M789.03 381.40h1.90v-0.58h-1.90z M791.71 381.40h1.90v-30.67h-1.90z M794.39 381.40h1.90v-0.58h-1.90z M797.06 381.40h1.90v-0.58h-1.90z M799.74 381.40h1.90v-0.58h-1.90z M802.42 381.40h1.90v-18.50h-1.90z M805.09 381.40h1.90v-0.58h-1.90z M807.77 381.40h1.90v-0.58h-1.90z M810.45 381.40h1.90v-0.58h-1.90z M813.13 381.40h1.90v-0.58h-1.90z M815.80 381.40h1.90v-0.58h-1.90z M818.48 381.40h1.90v-0.58h-1.90z M821.16 381.40h1.90v-0.58h-1.90z M823.83 381.40h1.90v-15.58h-1.90z M826.51 381.40h1.90v-0.58h-1.90z M829.19 381.40h1.90v-0.58h-1.90z M831.86 381.40h1.90v-0.58h-1.90z M834.54 381.40h1.90v-12.66h-1.90z M837.22 381.40h1.90v-0.58h-1.90z M839.90 381.40h1.90v-0.58h-1.90z M842.57 381.40h1.90v-0.58h-1.90z M845.25 381.40h1.90v-0.58h-1.90z M847.93 381.40h1.90v-0.58h-1.90z M850.60 381.40h1.90v-0.58h-1.90z M853.28 381.40h1.90v-0.58h-1.90z M855.96 381.40h1.90v-8.28h-1.90z M858.63 381.40h1.90v-0.58h-1.90z M861.31 381.40h1.90v-0.58h-1.90z M863.99 381.40h1.90v-0.58h-1.90z M866.66 381.40h1.90v-8.76h-1.90z M869.34 381.40h1.90v-0.58h-1.90z M872.02 381.40h1.90v-0.58h-1.90z M874.70 381.40h1.90v-0.58h-1.90z M877.37 381.40h1.90v-0.58h-1.90z M880.05 381.40h1.90v-0.58h-1.90z M882.73 381.40h1.90v-0.58h-1.90z M885.40 381.40h1.90v-0.58h-1.90z M888.08 381.40h1.90v-5.36h-1.90z M890.76 381.40h1.90v-0.58h-1.90z M893.43 381.40h1.90v-0.58h-1.90z M896.11 381.40h1.90v-0.58h-1.90z M898.79 381.40h1.90v-5.36h-1.90z M901.47 381.40h1.90v-0.58h-1.90z M904.14 381.40h1.90v-0.58h-1.90z M906.82 381.40h1.90v-0.58h-1.90z M909.50 381.40h1.90v-0.58h-1.90z M912.17 381.40h1.90v-0.58h-1.90z " fill="#1f5f93"/>
<text x="701.64" y="390.60" font-size="7.00" text-anchor="middle" fill="#1c1c1c" font-weight="normal" >0</text>
<text x="728.41" y="390.60" font-size="7.00" text-anchor="middle" fill="#1c1c1c" font-weight="normal" >5</text>
<text x="755.18" y="390.60" font-size="7.00" text-anchor="middle" fill="#1c1c1c" font-weight="normal" >10</text>
<text x="781.95" y="390.60" font-size="7.00" text-anchor="middle" fill="#1c1c1c" font-weight="normal" >15</text>
<text x="808.72" y="390.60" font-size="7.00" text-anchor="middle" fill="#1c1c1c" font-weight="normal" >20</text>
<text x="835.49" y="390.60" font-size="7.00" text-anchor="middle" fill="#1c1c1c" font-weight="normal" >25</text>
<text x="862.26" y="390.60" font-size="7.00" text-anchor="middle" fill="#1c1c1c" font-weight="normal" >30</text>
<text x="889.03" y="390.60" font-size="7.00" text-anchor="middle" fill="#1c1c1c" font-weight="normal" >35</text>
<text x="915.80" y="390.60" font-size="7.00" text-anchor="middle" fill="#1c1c1c" font-weight="normal" >40</text>
<text x="688.20" y="383.90" font-size="7.00" text-anchor="end" fill="#1c1c1c" font-weight="normal" >0</text>
<text x="688.20" y="359.56" font-size="7.00" text-anchor="end" fill="#1c1c1c" font-weight="normal" >0.5</text>
<text x="688.20" y="335.21" font-size="7.00" text-anchor="end" fill="#1c1c1c" font-weight="normal" >1</text>
<text x="688.20" y="310.87" font-size="7.00" text-anchor="end" fill="#1c1c1c" font-weight="normal" >1.5</text>
<text x="688.20" y="286.53" font-size="7.00" text-anchor="end" fill="#1c1c1c" font-weight="normal" >2</text>
<text x="688.20" y="262.19" font-size="7.00" text-anchor="end" fill="#1c1c1c" font-weight="normal" >2.5</text>
<text x="688.20" y="237.84" font-size="7.00" text-anchor="end" fill="#1c1c1c" font-weight="normal" >3</text>
<text x="688.20" y="213.50" font-size="7.00" text-anchor="end" fill="#1c1c1c" font-weight="normal" >3.5</text>
<path d="M701.64 381.40v-2.00 M701.64 211.00v2.00 M728.41 381.40v-2.00 M728.41 211.00v2.00 M755.18 381.40v-2.00 M755.18 211.00v2.00 M781.95 381.40v-2.00 M781.95 211.00v2.00 M808.72 381.40v-2.00 M808.72 211.00v2.00 M835.49 381.40v-2.00 M835.49 211.00v2.00 M862.26 381.40v-2.00 M862.26 211.00v2.00 M889.03 381.40v-2.00 M889.03 211.00v2.00 M915.80 381.40v-2.00 M915.80 211.00v2.00 M690.40 381.40h2.00 M915.80 381.40h-2.00 M690.40 357.06h2.00 M915.80 357.06h-2.00 M690.40 332.71h2.00 M915.80 332.71h-2.00 M690.40 308.37h2.00 M915.80 308.37h-2.00 M690.40 284.03h2.00 M915.80 284.03h-2.00 M690.40 259.69h2.00 M915.80 259.69h-2.00 M690.40 235.34h2.00 M915.80 235.34h-2.00 M690.40 211.00h2.00 M915.80 211.00h-2.00 " stroke="#a2a2a2" stroke-width="0.6" fill="none"/>
<rect x="690.40" y="211.00" width="225.40" height="170.40" fill="none" stroke="#a2a2a2" stroke-width="0.75"/>
<text x="803.10" y="208.70" font-size="6.80" text-anchor="middle" fill="#1c1c1c" font-weight="normal" >Fundamental (50Hz) = 18.61 , THD= 4.64%</text>
<text x="803.10" y="399.20" font-size="6.80" text-anchor="middle" fill="#1c1c1c" font-weight="normal" >Harmonic order</text>
<text x="677.00" y="296.20" font-size="6.80" text-anchor="middle" fill="#1c1c1c" font-weight="normal" transform="rotate(-90 677.00 296.20)" >Mag (% of Fundamental)</text>
</g>
<g opacity="0.999">
<text x="8.00" y="16.60" font-size="15.20" text-anchor="start" fill="#000" font-weight="bold" textLength="141.3" lengthAdjust="spacingAndGlyphs">15kW 400V AC 50Hz</text>
<path d="M157.45 9.10V13.30H152.60" fill="none" stroke="#606060" stroke-width="0.85"/>
<path d="M151.00 13.30L153.90 11.00L153.20 13.30L153.90 15.60z" fill="#606060"/>
<text x="19.00" y="449.90" font-size="14" text-anchor="start" fill="#000" font-weight="normal" font-family="'Liberation Sans', 'Noto Sans CJK SC', sans-serif" textLength="42" lengthAdjust="spacingAndGlyphs">未安装</text>
<text x="64.90" y="449.90" font-size="13.60" text-anchor="start" fill="#000" font-weight="normal" stroke="#000" stroke-width="0.22" textLength="23.2" lengthAdjust="spacingAndGlyphs">HFL</text>
<text x="92.30" y="449.90" font-size="14" text-anchor="start" fill="#000" font-weight="normal" font-family="'Liberation Sans', 'Noto Sans CJK SC', sans-serif" textLength="42" lengthAdjust="spacingAndGlyphs">滤波器</text>
<text x="141.30" y="449.90" font-size="14" text-anchor="start" fill="#333" font-weight="normal" font-family="'Liberation Sans', 'Noto Sans CJK SC', sans-serif">（</text>
<text x="154.80" y="449.90" font-size="11.80" text-anchor="start" fill="#383838" font-weight="normal" stroke="#383838" stroke-width="0.2" textLength="124.8" lengthAdjust="spacingAndGlyphs">No HFL filter is installed</text>
<text x="279.50" y="449.90" font-size="14" text-anchor="start" fill="#333" font-weight="normal" font-family="'Liberation Sans', 'Noto Sans CJK SC', sans-serif">）</text>
<text x="27.40" y="478.80" font-size="13.60" text-anchor="start" fill="#000" font-weight="normal" stroke="#000" stroke-width="0.22" textLength="88.0" lengthAdjust="spacingAndGlyphs">(THDI 44.9%)</text>
<text x="335.00" y="449.90" font-size="14" text-anchor="start" fill="#000" font-weight="normal" font-family="'Liberation Sans', 'Noto Sans CJK SC', sans-serif" textLength="28" lengthAdjust="spacingAndGlyphs">安装</text>
<text x="367.00" y="449.90" font-size="13.60" text-anchor="start" fill="#000" font-weight="normal" stroke="#000" stroke-width="0.22" textLength="118.6" lengthAdjust="spacingAndGlyphs">HFL10-0022A4005</text>
<text x="490.30" y="449.90" font-size="14" text-anchor="start" fill="#000" font-weight="normal" font-family="'Liberation Sans', 'Noto Sans CJK SC', sans-serif">后</text>
<text x="505.00" y="449.90" font-size="14" text-anchor="start" fill="#000" font-weight="normal" font-family="'Liberation Sans', 'Noto Sans CJK SC', sans-serif">（</text>
<text x="518.50" y="449.90" font-size="13.60" text-anchor="start" fill="#000" font-weight="normal" stroke="#000" stroke-width="0.22" textLength="35.5" lengthAdjust="spacingAndGlyphs">after)</text>
<text x="338.80" y="478.80" font-size="13.60" text-anchor="start" fill="#000" font-weight="normal" stroke="#000" stroke-width="0.22" textLength="78.5" lengthAdjust="spacingAndGlyphs">(THDI 8.7%)</text>
<text x="679.00" y="449.90" font-size="14" text-anchor="start" fill="#000" font-weight="normal" font-family="'Liberation Sans', 'Noto Sans CJK SC', sans-serif" textLength="28" lengthAdjust="spacingAndGlyphs">安装</text>
<text x="711.60" y="449.90" font-size="13.60" text-anchor="start" fill="#000" font-weight="normal" stroke="#000" stroke-width="0.22" textLength="118.7" lengthAdjust="spacingAndGlyphs">HFL05-0022A4005</text>
<text x="835.00" y="449.90" font-size="14" text-anchor="start" fill="#000" font-weight="normal" font-family="'Liberation Sans', 'Noto Sans CJK SC', sans-serif">后</text>
<text x="849.60" y="449.90" font-size="13.60" text-anchor="start" fill="#000" font-weight="normal" stroke="#000" stroke-width="0.22" textLength="38.4" lengthAdjust="spacingAndGlyphs">(after)</text>
<path d="M896.65 442.20V446.40H891.80" fill="none" stroke="#606060" stroke-width="0.85"/>
<path d="M890.20 446.40L893.10 444.10L892.40 446.40L893.10 448.70z" fill="#606060"/>
<text x="682.10" y="478.80" font-size="13.60" text-anchor="start" fill="#000" font-weight="normal" stroke="#000" stroke-width="0.22" textLength="79.3" lengthAdjust="spacingAndGlyphs">(THDI 4.6%)</text>
<path d="M791.85 471.20V475.40H787.00" fill="none" stroke="#606060" stroke-width="0.85"/>
<path d="M785.40 475.40L788.30 473.10L787.60 475.40L788.30 477.70z" fill="#606060"/>
<path d="M943.55 400.10V404.30H938.70" fill="none" stroke="#606060" stroke-width="0.85"/>
<path d="M937.10 404.30L940.00 402.00L939.30 404.30L940.00 406.60z" fill="#606060"/>
<rect x="455.3" y="498.2" width="1" height="1.8" fill="#999"/>
</g>
</svg>
</body></html>
